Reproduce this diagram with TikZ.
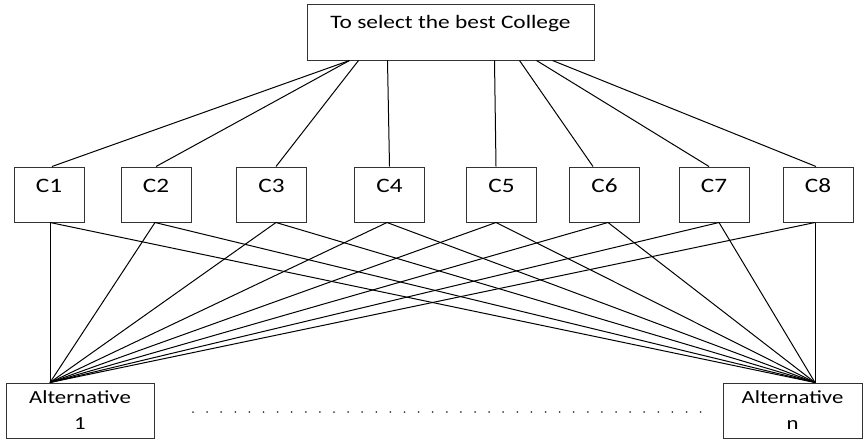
\documentclass[tikz,border=0pt]{standalone}
\usepackage{fontspec}
\setmainfont[FakeStretch=1.23]{Carlito}
\begin{document}
\begin{tikzpicture}[x=1pt,y=-1pt,
  box/.style={draw=black!80, line width=1pt, inner sep=0pt},
  goalbox/.style={box, minimum width=287pt, text height=24pt, text depth=32pt, font=\fontsize{19}{22}\selectfont},
  critbox/.style={box, minimum width=70pt, text height=25pt, text depth=30pt, font=\fontsize{20.5}{24}\selectfont},
  altbox/.style={box, minimum height=55pt, align=center, font=\fontsize{18.5}{24}\selectfont},
  link/.style={black, line width=1pt}]
\useasboundingbox (0,0) rectangle (864,439);

% goal
\node[goalbox] (goal) at (450.5,32) {To select the best College};

% criteria
\foreach \n/\x in {1/49,2/156,3/271.5,4/389.5,5/501.5,6/604.5,7/714,8/818}
  \node[critbox] (c\n) at (\x,194.5) {C\n};

% alternatives
\node[altbox, minimum width=148pt] (alt1) at (80,410.5) {Alternative\\[2pt]1};
\node[altbox, minimum width=139pt] (altn) at (792.5,410.5) {Alternative\\[2pt]n};

% goal to criteria
\foreach \n/\gx/\cx in {1/43/3,2/43/0,3/52/4.5,4/81/0,5/188/-5.5,6/213/-11.5,7/230/-5,8/246/-2}
  \draw[link] ([xshift=\gx pt]goal.south west) -- ([xshift=\cx pt]c\n.north);

% criteria to alternatives
\coordinate (a1) at ([xshift=-30pt]alt1.north);
\coordinate (an) at ([xshift=22.5pt]altn.north);
\foreach \n/\bx in {1/1,2/-1,3/4.5,4/-2.5,5/-5.5,6/3.5,7/5,8/-3} {
  \draw[link] ([xshift=\bx pt]c\n.south) -- (a1);
  \draw[link] ([xshift=\bx pt]c\n.south) -- (an);
}

% ellipsis between the alternatives
\coordinate (d1) at (193,412);
\coordinate (d2) at (702,412);
\draw[black!75, line width=2pt, line cap=round, dash pattern=on 0pt off 14.1pt] (d1) -- (d2);
\end{tikzpicture}
\end{document}
